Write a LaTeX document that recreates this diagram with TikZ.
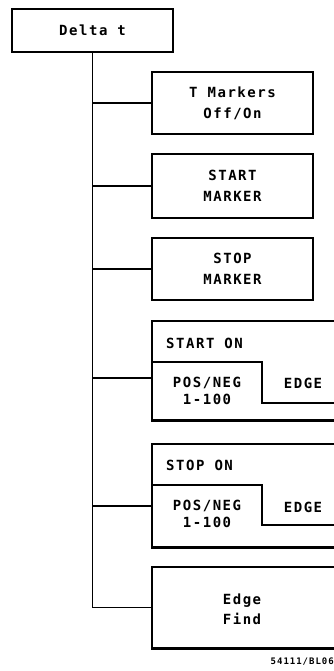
\documentclass[tikz,border=0pt]{standalone}
\usepackage{fontspec}
\newfontfamily\plotfont[LetterSpace=11]{DejaVu Sans Mono}
\newcommand\menufont{\plotfont\bfseries\fontsize{14}{21}\selectfont}
\usetikzlibrary{positioning}
\tikzset{
  menubox/.style={draw, line width=2.6pt, minimum width=161pt, inner sep=0pt, align=center, font=\menufont},
  keyframe/.style={minimum width=186pt, inner sep=0pt, anchor=north west},
  keytext/.style={inner sep=0pt, align=center, font=\plotfont\bfseries\fontsize{14}{17}\selectfont},
  link/.style={line width=1.4pt},
}
\begin{document}
\begin{tikzpicture}[x=1pt, y=-1pt]
  \useasboundingbox (0,0) rectangle (334,671);

  % Top key
  \node[menubox, minimum height=43pt] (delta) at (92.5,30.5) {Delta t};

  % Plain softkeys
  \node[menubox, minimum height=62pt] (tmk) at (232.5,103) {T Markers\\Off/On};
  \node[menubox, minimum height=64pt] (stamk) at (232.5,186) {START\\MARKER};
  \node[menubox, minimum height=62pt] (stomk) at (232.5,269) {STOP\\MARKER};

  % START ON key (runs off the right edge)
  \node[keyframe, minimum height=99pt] (staon) at (152,321) {};
  \draw[line width=2.6pt] (staon.north east) -- (staon.north west) -- (staon.south west) -- (staon.south east);
  \draw[link] (152,362) -- (262,362) -- (262,403) -- (338,403);
  \node[keytext, anchor=west] (staont) at (166,343) {START ON};
  \node[keytext] (stapn) at (207,391) {POS/NEG\\1-100};
  \node[keytext] (staedge) at (303,383) {EDGE};
  \path (staon.north west) ++(0,57) coordinate (staport);

  % STOP ON key
  \node[keyframe, minimum height=103pt] (stoon) at (152,444) {};
  \draw[line width=2.6pt] (stoon.north east) -- (stoon.north west) -- (stoon.south west) -- (stoon.south east);
  \draw[link] (152,485) -- (262,485) -- (262,525) -- (338,525);
  \node[keytext, anchor=west] (stoont) at (166,465) {STOP ON};
  \node[keytext] (stopn) at (207,514) {POS/NEG\\1-100};
  \node[keytext] (stoedge) at (303,507) {EDGE};
  \path (stoon.north west) ++(0,62) coordinate (stoport);

  % Edge Find key
  \node[keyframe, minimum height=81pt] (efind) at (152,567) {};
  \draw[line width=2.6pt] (efind.north east) -- (efind.north west) -- (efind.south west) -- (efind.south east);
  \node[menubox, draw=none, minimum width=0pt, font=\plotfont\bfseries\fontsize{14}{20}\selectfont] (eftext) at (242,609) {Edge\\Find};

  % Tree lines
  \draw[link] (delta.south) -- (delta.south |- efind.west) -- (efind.west);
  \draw[link] (delta.south |- tmk.west) -- (tmk.west);
  \draw[link] (delta.south |- stamk.west) -- (stamk.west);
  \draw[link] (delta.south |- stomk.west) -- (stomk.west);
  \draw[link] (delta.south |- staport) -- (staport);
  \draw[link] (delta.south |- stoport) -- (stoport);

  % Figure number
  \node[anchor=east, inner sep=0pt, font=\plotfont\bfseries\fontsize{9}{9}\selectfont] (fignum) at (334,662) {54111/BL06};
\end{tikzpicture}
\end{document}
